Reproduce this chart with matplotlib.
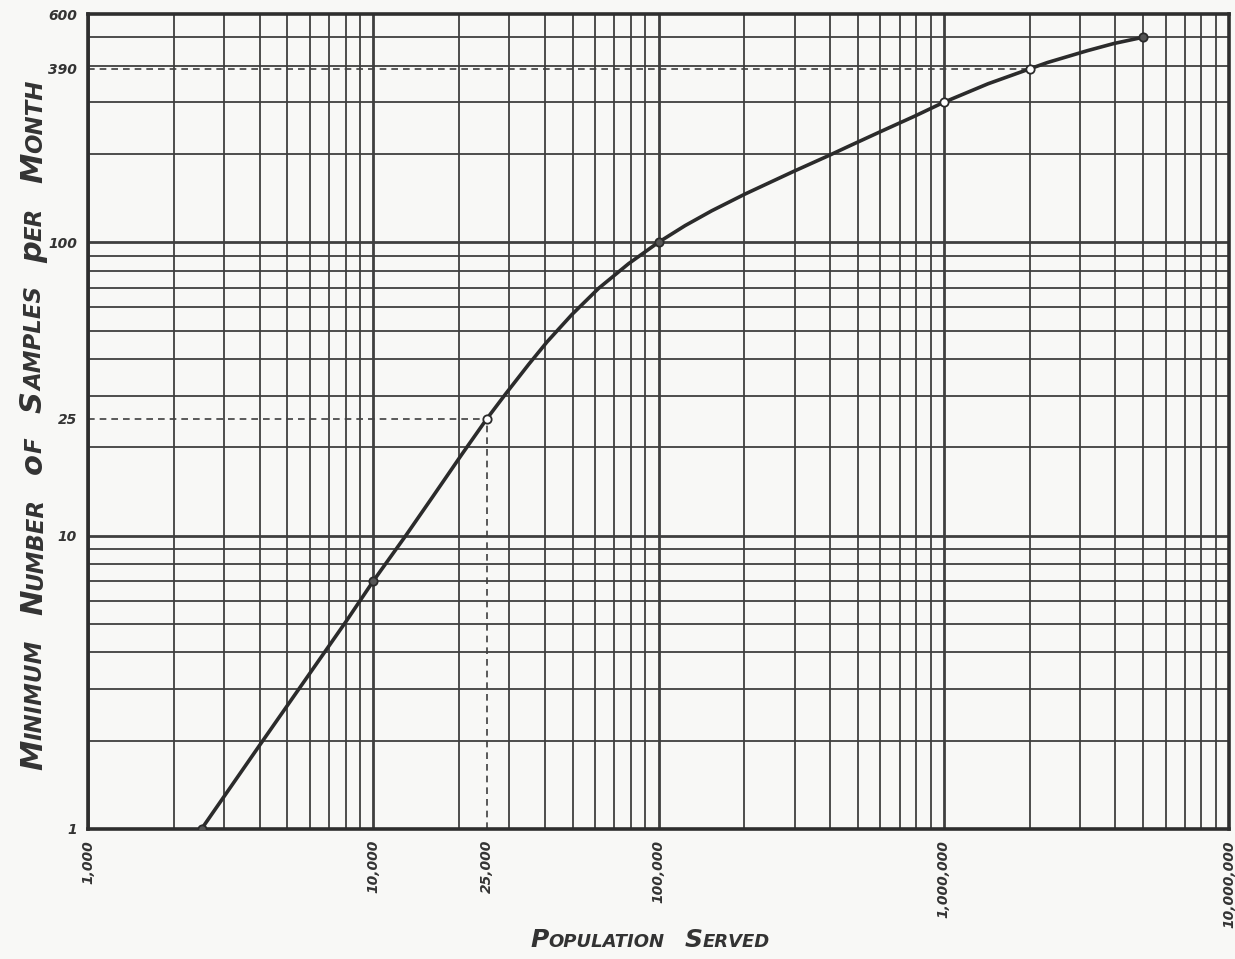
import matplotlib
matplotlib.use("Agg")
import matplotlib.pyplot as plt

# standard points (population served, minimum samples per month)
pop_pts = [2500, 10000, 25000, 100000, 1000000, 2000000, 5000000]
samples_pts = [1, 7, 25, 100, 300, 390, 500]
open_pts = [False, False, True, False, True, True, False]

# curve
curve_pop = [2500, 4100, 8030, 10000, 13000, 16100, 20500, 25000, 29100,
             35100, 40700, 49700, 61700, 78500, 100000, 124000, 153600,
             201000, 296000, 393000, 462000, 604000, 790000,
             1000000, 1430000, 2000000, 2310000, 3190000, 3950000, 5000000]
curve_samples = [1, 2.0, 5.1, 7, 10.0, 13.5, 19.0, 25, 30.4,
                 38.4, 45.8, 56.7, 69.7, 84.5, 100, 114, 128,
                 146, 174, 197, 212, 239, 269,
                 300, 347, 390, 410, 450, 476, 500]

x_ticks = [1000, 10000, 25000, 100000, 1000000, 10000000]
x_labels = ["1,000", "10,000", "25,000", "100,000", "1,000,000", "10,000,000"]
y_ticks = [1, 10, 25, 100, 390, 600]
y_labels = ["1", "10", "25", "100", "390", "600"]

INK = "#3f3f3f"
BG = "#f8f8f6"

fig = plt.figure(figsize=(12.35, 9.59), dpi=100, facecolor=BG)
ax = fig.add_axes([88 / 1235, 1 - 829 / 959, (1229 - 88) / 1235, (829 - 14) / 959])
ax.set_facecolor(BG)
ax.set_xscale("log")
ax.set_yscale("log")
ax.set_xlim(1000, 10000000)
ax.set_ylim(1, 600)

# log paper grid
for e in range(3, 7):
    for m in range(1, 10):
        v = m * 10 ** e
        ax.axvline(v, color=INK, lw=2.0 if m == 1 else 1.3, zorder=1)
for e in range(0, 3):
    for m in range(1, 10):
        v = m * 10 ** e
        if v < 600:
            ax.axhline(v, color=INK, lw=2.0 if m == 1 else 1.3, zorder=1)

# dashed guide lines
ax.plot([1000, 25000], [25, 25], ls=(0, (4, 3)), color=INK, lw=1.2, zorder=2)
ax.plot([25000, 25000], [1, 25], ls=(0, (4, 3)), color=INK, lw=1.2, zorder=2)
ax.plot([1000, 2000000], [390, 390], ls=(0, (4, 3)), color=INK, lw=1.2, zorder=2)

ax.plot(curve_pop, curve_samples, color="#2b2b2b", lw=2.6, zorder=3,
        solid_capstyle="round", solid_joinstyle="round")
for p, s, o in zip(pop_pts, samples_pts, open_pts):
    ax.plot(p, s, "o", ms=6, mec="#2b2b2b", mew=1.3,
            mfc="white" if o else "#555555", zorder=4)

for sp in ax.spines.values():
    sp.set_linewidth(2.6)
    sp.set_color("#2e2e2e")

ax.set_xticks(x_ticks)
ax.set_xticklabels(x_labels, rotation=90, style="italic", weight="bold",
                   fontsize=10, color="#333333")
ax.set_yticks(y_ticks)
ax.set_yticklabels(y_labels, style="italic", weight="bold", fontsize=10,
                   color="#333333")
ax.xaxis.set_minor_locator(matplotlib.ticker.NullLocator())
ax.yaxis.set_minor_locator(matplotlib.ticker.NullLocator())
ax.tick_params(length=0, pad=8)


def small_caps(text, cx, cy, big, small, gap, vertical=False):
    # hand-lettered style: big first letter, small rest
    renderer = fig.canvas.get_renderer()
    pieces = []
    for word in text.split():
        pieces.append((word[0], big))
        pieces.append((word[1:].upper(), small))
        pieces.append((None, big))
    pieces = pieces[:-1]
    widths = []
    for s, sz in pieces:
        if s is None:
            widths.append(sz * gap)
            continue
        t = fig.text(0, 0, s, fontsize=sz, style="italic", weight="bold")
        widths.append(t.get_window_extent(renderer).width)
        t.remove()
    W, H = fig.bbox.width, fig.bbox.height
    pos = (cy * H if vertical else cx * W) - sum(widths) / 2
    for (s, sz), w in zip(pieces, widths):
        if s is not None:
            if vertical:
                fig.text(cx, pos / H, s, fontsize=sz, style="italic", weight="bold",
                         color="#333333", rotation=90, rotation_mode="anchor",
                         ha="left", va="baseline")
            else:
                fig.text(pos / W, cy, s, fontsize=sz, style="italic", weight="bold",
                         color="#333333", ha="left", va="baseline")
        pos += w


fig.canvas.draw()
small_caps("Population Served", 650 / 1235, 1 - 947 / 959, 18, 13, 1.1)
small_caps("Minimum Number of Samples per Month", 42 / 1235, 1 - 425 / 959, 22, 16.5,
           1.1, vertical=True)

fig.savefig("out.png", dpi=100, facecolor=BG)
